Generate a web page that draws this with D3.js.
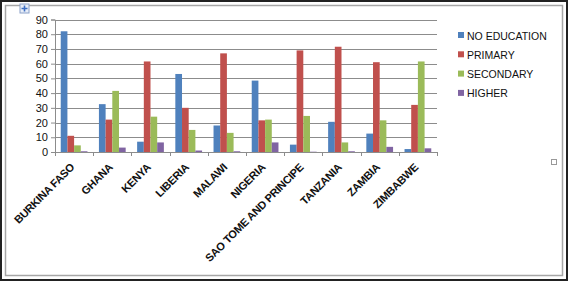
<!DOCTYPE html>
<html>
<head>
<meta charset="utf-8">
<script src="https://cdn.jsdelivr.net/npm/d3@7"></script>
<style>
  body { margin: 0; background: #fff; }
  svg { display: block; font-family: "Liberation Sans", Arial, sans-serif; }
</style>
</head>
<body>
<div id="chart"></div>
<script>
// Education level by country (percent)
const countries = ["BURKINA FASO", "GHANA", "KENYA", "LIBERIA", "MALAWI", "NIGERIA",
  "SAO TOME AND PRINCIPE", "TANZANIA", "ZAMBIA", "ZIMBABWE"];
const seriesNames = ["NO EDUCATION", "PRIMARY", "SECONDARY", "HIGHER"];
const noEducation = [82, 32.5, 7, 53, 18, 48.5, 5, 20.5, 12.5, 2];
const primary = [11, 22, 61.5, 30, 67, 21.5, 69, 71.5, 61, 32];
const secondary = [4.5, 41.5, 24, 15, 13, 22, 24.5, 6.5, 21.5, 61.5];
const higher = [0.5, 3, 6.5, 1, 0.5, 6.5, 0.2, 0.5, 3.5, 2.5];
const yTicks = [0, 10, 20, 30, 40, 50, 60, 70, 80, 90];

const colors = ["#4F81BD", "#C0504D", "#9BBB59", "#8064A2"];
const seriesValues = [noEducation, primary, secondary, higher];

const W = 568, H = 281;
const svg = d3.select("#chart").append("svg")
  .attr("width", W).attr("height", H);

// frames
svg.append("rect").attr("x", 1).attr("y", 1).attr("width", W - 2).attr("height", H - 2)
  .attr("fill", "#fff").attr("stroke", "#222").attr("stroke-width", 2);
svg.append("rect").attr("x", 5.5).attr("y", 5.5).attr("width", 557).attr("height", 270)
  .attr("fill", "none").attr("stroke", "#a6a6a6").attr("stroke-width", 1.5);

// little move handle top left
const handle = svg.append("g").attr("transform", "translate(20,4)");
handle.append("rect").attr("width", 9).attr("height", 9).attr("fill", "#e8eef8").attr("stroke", "#8aa0c8");
handle.append("path").attr("d", "M4.5,1.5V7.5M1.5,4.5H7.5").attr("stroke", "#3d6fc4").attr("stroke-width", 1.6);

// resize marker on right
svg.append("rect").attr("x", 551.5).attr("y", 159.5).attr("width", 5).attr("height", 5)
  .attr("fill", "#fff").attr("stroke", "#999");

const plotLeft = 55, plotRight = 437, plotTop = 19.5, plotBottom = 152;

const x0 = d3.scaleBand().domain(countries).range([plotLeft, plotRight])
  .paddingInner(0.3).paddingOuter(0.15);
const x1 = d3.scaleBand().domain(seriesNames).range([0, x0.bandwidth()]);
const y = d3.scaleLinear().domain([0, 90]).range([plotBottom, plotTop]);

// gridlines
svg.append("g").selectAll("line").data(yTicks.slice(1)).join("line")
  .attr("x1", plotLeft).attr("x2", plotRight)
  .attr("y1", d => Math.round(y(d)) + 0.5).attr("y2", d => Math.round(y(d)) + 0.5)
  .attr("stroke", "#8c8c8c").attr("stroke-width", 1);

// y axis
const yAxis = svg.append("g").attr("transform", `translate(${plotLeft},0)`)
  .call(d3.axisLeft(y).tickValues(yTicks).tickSize(4).tickPadding(3));
yAxis.select(".domain").attr("stroke", "#8c8c8c");
yAxis.selectAll(".tick line").attr("stroke", "#8c8c8c");
yAxis.selectAll("text").attr("font-size", 11).attr("fill", "#111");

// bars
countries.forEach((c, i) => {
  svg.append("g").selectAll("rect").data(seriesNames).join("rect")
    .attr("x", s => x0(c) + x1(s))
    .attr("width", x1.bandwidth())
    .attr("y", (s, k) => y(seriesValues[k][i]))
    .attr("height", (s, k) => plotBottom - y(seriesValues[k][i]))
    .attr("fill", (s, k) => colors[k]);
});

// x axis line and ticks at category boundaries
svg.append("line").attr("x1", plotLeft).attr("x2", plotRight)
  .attr("y1", plotBottom + 0.5).attr("y2", plotBottom + 0.5).attr("stroke", "#8c8c8c");
const step = x0.step();
const bounds = countries.map(c => x0(c) - x0.paddingOuter() * step).concat([plotRight]);
svg.append("g").selectAll("line").data(bounds).join("line")
  .attr("x1", d => Math.round(d) + 0.5).attr("x2", d => Math.round(d) + 0.5)
  .attr("y1", plotBottom).attr("y2", plotBottom + 4).attr("stroke", "#8c8c8c");

// category labels
svg.append("g").selectAll("text").data(countries).join("text")
  .attr("transform", d => `translate(${x0(d) + x0.bandwidth() / 2 + 1},${plotBottom + 16}) rotate(-45)`)
  .attr("text-anchor", "end")
  .attr("font-size", 11).attr("font-weight", "bold").attr("fill", "#111")
  .attr("letter-spacing", -0.3)
  .text(d => d);

// legend
const legend = svg.append("g").selectAll("g").data(seriesNames).join("g")
  .attr("transform", (d, i) => `translate(458,${36 + i * 19.3})`);
legend.append("rect").attr("x", 0).attr("y", -4).attr("width", 6).attr("height", 6)
  .attr("fill", (d, i) => colors[i]);
legend.append("text").attr("x", 9).attr("y", 3.5)
  .attr("font-size", 10.5).attr("fill", "#111").text(d => d);
</script>
</body>
</html>
